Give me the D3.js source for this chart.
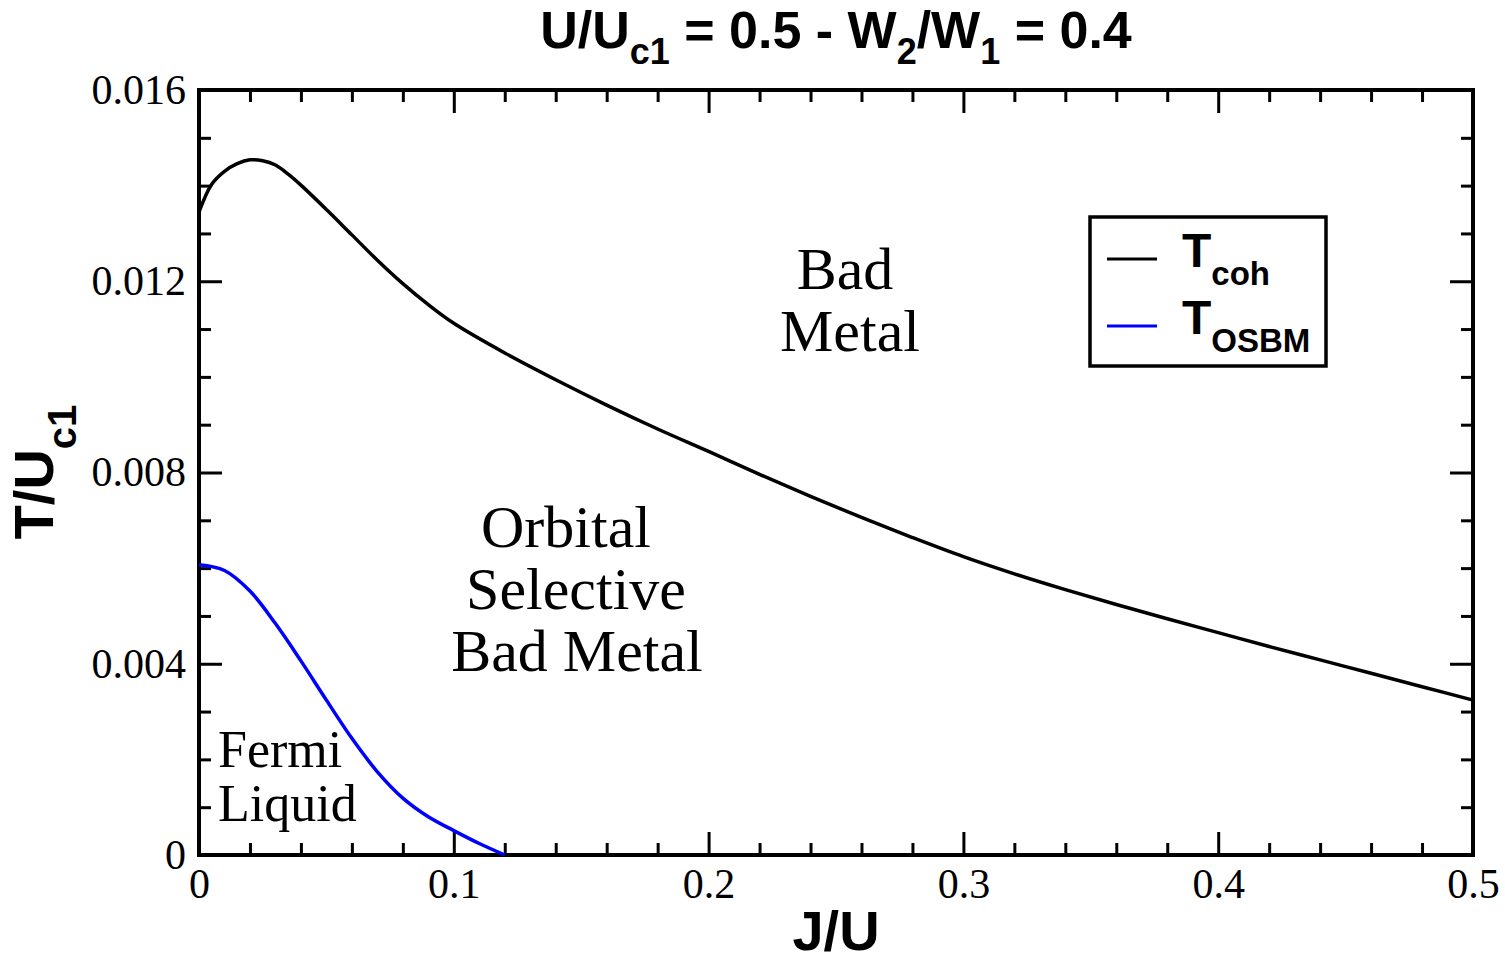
<!DOCTYPE html>
<html>
<head>
<meta charset="utf-8">
<script src="https://cdn.jsdelivr.net/npm/d3@7"></script>
<style>
  html, body { margin: 0; padding: 0; background: #fff; }
  svg { display: block; }
</style>
</head>
<body>
<svg id="chart" width="1505" height="963"></svg>
<script>
// data
const jCoh = [0, 0.005, 0.01, 0.015, 0.02, 0.025, 0.03, 0.035, 0.04, 0.05, 0.06, 0.07, 0.08, 0.09, 0.1,
  0.12, 0.14, 0.16, 0.18, 0.2, 0.22, 0.24, 0.26, 0.28, 0.3, 0.32, 0.34, 0.36, 0.38, 0.4,
  0.42, 0.44, 0.46, 0.48, 0.5];
const tCoh = [0.01345, 0.01403, 0.01430, 0.01446, 0.01454, 0.01452, 0.01443, 0.01424, 0.01401,
  0.01350, 0.01297, 0.01244, 0.01195, 0.01151, 0.01112,
  0.01050, 0.00994, 0.00941, 0.00891, 0.00844, 0.00796, 0.00750, 0.00706, 0.00664, 0.00624,
  0.00588, 0.00555, 0.00524, 0.00494, 0.00465, 0.00436, 0.00408, 0.00380, 0.00352, 0.00324];

const jOsbm = [0, 0.01, 0.02, 0.03, 0.04, 0.05, 0.06, 0.07, 0.08, 0.09, 0.1, 0.11, 0.12];
const tOsbm = [0.00607, 0.00595, 0.00552, 0.00484, 0.00406, 0.00324, 0.00244, 0.00174,
  0.00119, 0.00080, 0.00051, 0.00024, 0.0];

const xMajor = [0, 0.1, 0.2, 0.3, 0.4, 0.5];
const xMinor = d3.range(0, 0.5001, 0.02).filter(v => Math.abs(v * 10 - Math.round(v * 10)) > 1e-6);
const yMajor = [0, 0.004, 0.008, 0.012, 0.016];
const yMinor = d3.range(0, 0.01601, 0.001).filter(v => Math.abs(v / 0.004 - Math.round(v / 0.004)) > 1e-6);

const seriesNames = ["coh", "OSBM"];
const seriesColors = ["#000000", "#0000ff"];

const regions = [
  { lines: ["Bad", "Metal"], x: [845, 850], y: 289, size: 60, anchor: "middle" },
  { lines: ["Orbital", "Selective", "Bad Metal"], x: [566, 576, 577], y: 547, size: 60, anchor: "middle" },
  { lines: ["Fermi", "Liquid"], x: [218, 218], y: 767, size: 52, anchor: "start" }
];

const svg = d3.select("#chart");
const margin = { left: 199, top: 90, right: 32, bottom: 108 };
const width = 1505 - margin.left - margin.right;
const height = 963 - margin.top - margin.bottom;

const x = d3.scaleLinear().domain([0, 0.5]).range([0, width]);
const y = d3.scaleLinear().domain([0, 0.016]).range([height, 0]);

const g = svg.append("g").attr("transform", `translate(${margin.left},${margin.top})`);

const serif = "'Liberation Serif', 'Times New Roman', serif";
const sans = "'Liberation Sans', Arial, Helvetica, sans-serif";

// axes
const major = 23, minor = 12;
const fmtX = d => d === 0 ? "0" : d3.format(".1f")(d);
const fmtY = d => d === 0 ? "0" : d3.format(".3f")(d);

function styleAxis(sel) {
  sel.select(".domain").remove();
  sel.selectAll(".tick line").attr("stroke", "#000").attr("stroke-width", 3);
  sel.selectAll(".tick text").attr("fill", "#000").style("font-family", serif).style("font-size", "42px");
}

g.append("g").attr("transform", `translate(0,${height})`)
  .call(d3.axisBottom(x).tickValues(xMajor).tickFormat(fmtX).tickSizeInner(-major).tickSizeOuter(0).tickPadding(13))
  .call(styleAxis);
g.append("g").attr("transform", `translate(0,${height})`)
  .call(d3.axisBottom(x).tickValues(xMinor).tickFormat("").tickSizeInner(-minor).tickSizeOuter(0))
  .call(styleAxis);
g.append("g")
  .call(d3.axisTop(x).tickValues(xMajor).tickFormat("").tickSizeInner(-major).tickSizeOuter(0))
  .call(styleAxis);
g.append("g")
  .call(d3.axisTop(x).tickValues(xMinor).tickFormat("").tickSizeInner(-minor).tickSizeOuter(0))
  .call(styleAxis);

g.append("g")
  .call(d3.axisLeft(y).tickValues(yMajor).tickFormat(fmtY).tickSizeInner(-major).tickSizeOuter(0).tickPadding(13))
  .call(styleAxis);
g.append("g")
  .call(d3.axisLeft(y).tickValues(yMinor).tickFormat("").tickSizeInner(-minor).tickSizeOuter(0))
  .call(styleAxis);
g.append("g").attr("transform", `translate(${width},0)`)
  .call(d3.axisRight(y).tickValues(yMajor).tickFormat("").tickSizeInner(-major).tickSizeOuter(0))
  .call(styleAxis);
g.append("g").attr("transform", `translate(${width},0)`)
  .call(d3.axisRight(y).tickValues(yMinor).tickFormat("").tickSizeInner(-minor).tickSizeOuter(0))
  .call(styleAxis);

// frame
g.append("rect")
  .attr("width", width).attr("height", height)
  .attr("fill", "none").attr("stroke", "#000").attr("stroke-width", 4);

// curves
const line = d3.line().x(d => x(d[0])).y(d => y(d[1])).curve(d3.curveCatmullRom.alpha(0.5));
const series = [d3.zip(jCoh, tCoh), d3.zip(jOsbm, tOsbm)];

g.selectAll("path.curve")
  .data(series)
  .join("path")
  .attr("class", "curve")
  .attr("d", line)
  .attr("fill", "none")
  .attr("stroke", (d, i) => seriesColors[i])
  .attr("stroke-width", 3.5)
  .attr("stroke-linejoin", "round");

// region labels
regions.forEach(r => {
  r.lines.forEach((t, i) => {
    svg.append("text")
      .attr("x", r.x[i])
      .attr("y", r.y + i * (r.size + 2))
      .attr("text-anchor", r.anchor)
      .style("font-family", serif)
      .style("font-size", r.size + "px")
      .text(t);
  });
});

// legend
const leg = svg.append("g").attr("transform", "translate(1090,217)");
leg.append("rect").attr("width", 236).attr("height", 149)
  .attr("fill", "#fff").attr("stroke", "#000").attr("stroke-width", 3.5);
seriesNames.forEach((name, i) => {
  const ly = 42 + i * 67;
  leg.append("line").attr("x1", 17).attr("x2", 67).attr("y1", ly).attr("y2", ly)
    .attr("stroke", seriesColors[i]).attr("stroke-width", 3);
  const t = leg.append("text").attr("x", 92).attr("y", ly + 8)
    .style("font-family", sans).style("font-weight", "bold").style("font-size", "48px");
  t.append("tspan").text("T");
  t.append("tspan").attr("dy", 18).style("font-size", "33px").text(name);
});

// title
function richText(sel, parts, sub, shift) {
  let down = false;
  parts.forEach(p => {
    const ts = sel.append("tspan").text(p.t);
    if (p.sub && !down) { ts.attr("dy", shift).style("font-size", sub + "px"); down = true; }
    else if (!p.sub && down) { ts.attr("dy", -shift); down = false; }
  });
}

const title = svg.append("text")
  .attr("x", margin.left + width / 2).attr("y", 48)
  .attr("text-anchor", "middle")
  .style("font-family", sans).style("font-weight", "bold").style("font-size", "52px");
richText(title, [
  { t: "U/U" }, { t: "c1", sub: true }, { t: " = 0.5 - W" }, { t: "2", sub: true },
  { t: "/W" }, { t: "1", sub: true }, { t: " = 0.4" }
], 36, 16);

// axis titles
svg.append("text")
  .attr("x", margin.left + width / 2).attr("y", 950)
  .attr("text-anchor", "middle")
  .style("font-family", sans).style("font-weight", "bold").style("font-size", "56px")
  .text("J/U");

const yt = svg.append("text")
  .attr("transform", "translate(53,472) rotate(-90)")
  .attr("text-anchor", "middle")
  .style("font-family", sans).style("font-weight", "bold").style("font-size", "56px");
richText(yt, [{ t: "T/U" }, { t: "c1", sub: true }], 40, 23);
</script>
</body>
</html>
